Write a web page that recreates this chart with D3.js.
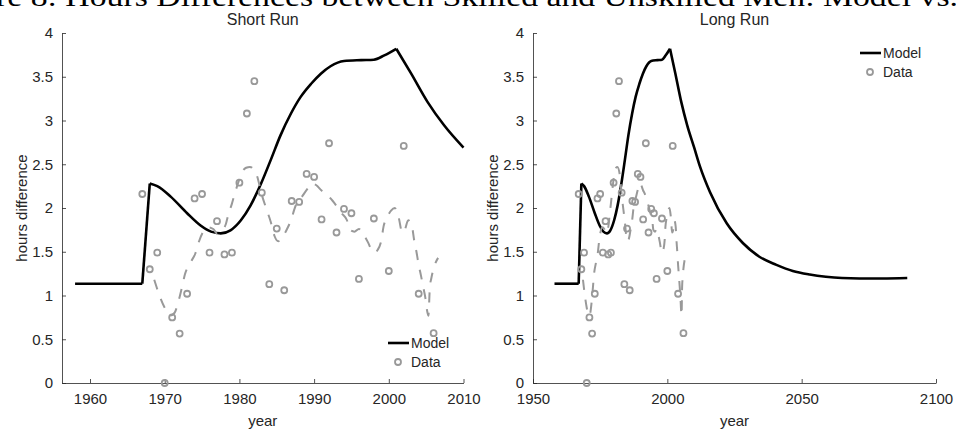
<!DOCTYPE html>
<html>
<head>
<meta charset="utf-8">
<script src="https://cdn.jsdelivr.net/npm/d3@7"></script>
<style>
  body { margin: 0; background: #fff; }
  svg { display: block; }
  text { font-family: "Liberation Sans", Arial, sans-serif; fill: #262626; }
</style>
</head>
<body>
<svg id="chart" width="956" height="433"></svg>
<script>
// observed data (circles)
const dataYears = [1967, 1968, 1969, 1970, 1971, 1972, 1973, 1974, 1975, 1976,
    1977, 1978, 1979, 1980, 1981, 1982, 1983, 1984, 1985, 1986,
    1987, 1988, 1989, 1990, 1991, 1992, 1993, 1994, 1995, 1996,
    1998, 2000, 2002, 2004, 2006];
const dataValues = [2.16, 1.30, 1.49, 0.0, 0.75, 0.565, 1.02, 2.11, 2.16, 1.49,
    1.85, 1.47, 1.49, 2.29, 3.08, 3.45, 2.175, 1.13, 1.765, 1.06,
    2.08, 2.07, 2.39, 2.355, 1.87, 2.74, 1.72, 1.99, 1.94, 1.19,
    1.88, 1.28, 2.71, 1.02, 0.57];

// smoothed data (dashed)
const trendYears = [1968.6, 1969.3, 1970.0, 1970.7, 1971.3, 1971.8, 1972.3, 1972.7, 1973.4, 1974.1,
    1974.6, 1975.1, 1975.8, 1976.5, 1977.0, 1977.6, 1978.2, 1978.5, 1979.0, 1979.4,
    1979.8, 1980.3, 1980.9, 1981.4, 1982.3, 1983.0, 1983.65, 1984.2, 1984.7, 1985.2,
    1985.7, 1986.2, 1986.9, 1987.5, 1988.3, 1989.2, 1989.7, 1990.3, 1991.0, 1991.5,
    1992.5, 1993.2, 1993.7, 1994.4, 1994.8, 1995.4, 1996.0, 1996.6, 1997.2, 1997.7,
    1998.1, 1998.5, 1999.0, 1999.3, 1999.7, 2000.3, 2000.8, 2001.3, 2001.8, 2002.1,
    2002.6, 2003.1, 2003.4, 2003.7, 2004.0, 2004.3, 2004.7, 2004.9, 2005.1, 2005.3,
    2005.5, 2005.7, 2006.0, 2006.6];
const trendValues = [1.18, 1.0, 0.86, 0.77, 0.80, 0.92, 1.09, 1.24, 1.37, 1.48,
    1.62, 1.72, 1.78, 1.76, 1.71, 1.74, 1.82, 1.92, 2.05, 2.17,
    2.28, 2.40, 2.46, 2.47, 2.38, 2.15, 1.98, 1.84, 1.68, 1.62,
    1.65, 1.73, 1.86, 2.02, 2.12, 2.23, 2.28, 2.26, 2.20, 2.17,
    2.08, 2.0, 1.94, 1.86, 1.75, 1.73, 1.76, 1.70, 1.61, 1.52,
    1.49, 1.52, 1.63, 1.79, 1.88, 1.97, 2.0, 1.90, 1.72, 1.74,
    1.86, 1.79, 1.63, 1.50, 1.35, 1.23, 1.06, 0.97, 0.84, 0.77,
    1.10, 1.20, 1.31, 1.43];

// model path
const modelYears = [1958.0, 1967.0, 1968.0, 1969.0, 1970.8, 1973.0, 1974.8, 1976.2, 1977.5, 1978.8,
    1980.2, 1981.5, 1982.9, 1984.2, 1985.5, 1986.9, 1988.2, 1989.6, 1990.9, 1992.2,
    1994.0, 1996.3, 1998.0, 1999.4, 2001.0, 2003.0, 2005.2, 2007.4, 2010.0, 2012.2,
    2015.9, 2022.1, 2028.1, 2034.4, 2040.6, 2046.7, 2053.0, 2059.0, 2065.0, 2071.5,
    2080.0, 2089.3];
const modelValues = [1.135, 1.135, 2.28, 2.25, 2.13, 1.94, 1.80, 1.73, 1.71, 1.745,
    1.86, 2.03, 2.28, 2.55, 2.83, 3.08, 3.27, 3.42, 3.535, 3.62,
    3.68, 3.69, 3.695, 3.745, 3.82, 3.535, 3.21, 2.945, 2.69, 2.47,
    2.18, 1.825, 1.60, 1.44, 1.35, 1.28, 1.24, 1.215, 1.20, 1.195,
    1.195, 1.20];
// years where the model has a corner
const modelKinks = [1967.0, 1968.0, 2001.0];

const yTicks = [0, 0.5, 1, 1.5, 2, 2.5, 3, 3.5, 4];
const shortTicks = [1960, 1970, 1980, 1990, 2000, 2010];
const longTicks = [1950, 2000, 2050, 2100];

const gray = "#999999";
const svg = d3.select("#chart");

// clipped caption from the page
svg.append("text")
    .attr("x", -4)
    .attr("y", 6)
    .attr("textLength", 962)
    .attr("lengthAdjust", "spacingAndGlyphs")
    .style("font-family", "'Liberation Serif', 'DejaVu Serif', serif")
    .style("font-size", "27px")
    .style("fill", "#000")
    .text("re 8: Hours Differences between Skilled and Unskilled Men: Model vs.");

const model = modelYears.map((t, i) => ({t, v: modelValues[i]}));
const data = dataYears.map((t, i) => ({t, v: dataValues[i]}));
const trend = trendYears.map((t, i) => ({t, v: trendValues[i]}));

// split model into smooth pieces at the corners
function pieces(pts, maxT) {
    const cuts = [pts[0].t, ...modelKinks, Infinity];
    const out = [];
    for (let k = 0; k < cuts.length - 1; k++) {
        const seg = pts.filter(d => d.t >= cuts[k] && d.t <= cuts[k + 1] && d.t <= maxT);
        if (seg.length > 1) out.push(seg);
    }
    return out;
}

function panel(opts) {
    const {x0, x1, domain, ticks, title, legendPos, maxT} = opts;
    const top = 33, bottom = 383;
    const x = d3.scaleLinear().domain(domain).range([x0, x1]);
    const y = d3.scaleLinear().domain([0, 4]).range([bottom, top]);
    const g = svg.append("g");

    // axes (inward ticks, no box)
    const xa = g.append("g").attr("transform", `translate(0,${bottom})`)
        .call(d3.axisBottom(x).tickValues(ticks).tickSizeInner(-4).tickSizeOuter(0).tickPadding(10).tickFormat(d3.format("d")));
    const ya = g.append("g").attr("transform", `translate(${x0},0)`)
        .call(d3.axisLeft(y).tickValues(yTicks).tickSizeInner(-4).tickSizeOuter(0).tickPadding(9).tickFormat(d => String(d)));
    [xa, ya].forEach(a => {
        a.select(".domain").attr("stroke", "#262626").attr("stroke-width", 0.8);
        a.selectAll(".tick line").attr("stroke", "#262626").attr("stroke-width", 0.8);
        a.selectAll(".tick text").style("font-size", "15px").attr("fill", "#262626");
    });

    // model
    const line = d3.line().x(d => x(d.t)).y(d => y(d.v)).curve(d3.curveMonotoneX);
    pieces(model, maxT).forEach(seg => {
        g.append("path").datum(seg).attr("d", line)
            .attr("fill", "none").attr("stroke", "#000").attr("stroke-width", 2.6)
            .attr("stroke-linejoin", "round");
    });

    // data circles
    g.selectAll("circle.obs").data(data).join("circle")
        .attr("class", "obs")
        .attr("cx", d => x(d.t)).attr("cy", d => y(d.v)).attr("r", 3)
        .attr("fill", "none").attr("stroke", gray).attr("stroke-width", 1.8);

    // smoothed data
    g.append("path").datum(trend).attr("d", line)
        .attr("fill", "none").attr("stroke", gray).attr("stroke-width", 2)
        .attr("stroke-dasharray", "10,10");

    // titles
    g.append("text").attr("x", (x0 + x1) / 2).attr("y", 25)
        .attr("text-anchor", "middle").style("font-size", "16px").text(title);
    g.append("text").attr("x", (x0 + x1) / 2).attr("y", 426)
        .attr("text-anchor", "middle").style("font-size", "15px").text("year");
    g.append("text")
        .attr("transform", `translate(${x0 - 35},${(top + bottom) / 2}) rotate(-90)`)
        .attr("text-anchor", "middle").style("font-size", "15px").text("hours difference");

    // legend
    const [lx, ly] = legendPos;
    const lg = g.append("g").attr("transform", `translate(${lx},${ly})`);
    lg.append("line").attr("x1", 0).attr("x2", 21).attr("y1", 0).attr("y2", 0)
        .attr("stroke", "#000").attr("stroke-width", 2.6);
    lg.append("text").attr("x", 23).attr("y", 5).style("font-size", "14px").attr("fill", "#000").text("Model");
    lg.append("circle").attr("cx", 10).attr("cy", 19).attr("r", 3)
        .attr("fill", "none").attr("stroke", gray).attr("stroke-width", 1.8);
    lg.append("text").attr("x", 23).attr("y", 24).style("font-size", "14px").attr("fill", "#000").text("Data");
}

panel({x0: 62, x1: 463.5, domain: [1956.25, 2010], ticks: shortTicks, title: "Short Run",
    legendPos: [388, 343], maxT: 2010});
panel({x0: 533, x1: 936, domain: [1950, 2100], ticks: longTicks, title: "Long Run",
    legendPos: [860, 53], maxT: 2100});
</script>
</body>
</html>
